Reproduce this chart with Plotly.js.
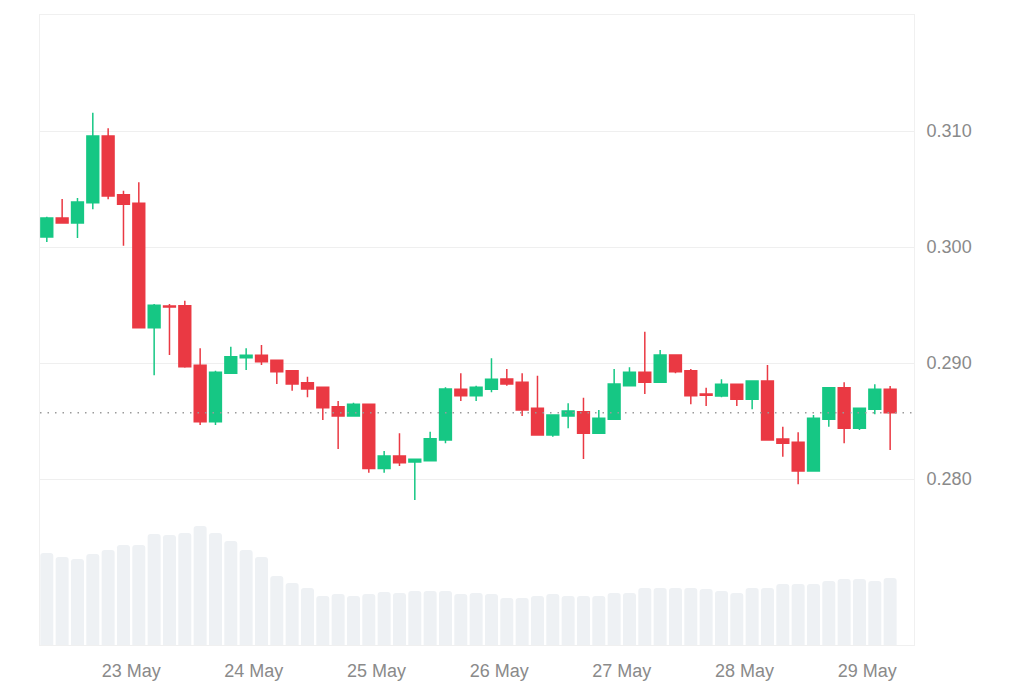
<!DOCTYPE html>
<html>
<head>
<meta charset="utf-8">
<script src="https://cdn.plot.ly/plotly-3.0.1.min.js"></script>
<style>
  html, body { margin: 0; padding: 0; background: #ffffff; }
  #chart { width: 1024px; height: 683px; }
</style>
</head>
<body>
<div id="chart"></div>
<script>
// 3-hour candles, 22 May - 29 May
const TIMES = [
  "2024-05-22 07:30","2024-05-22 10:30","2024-05-22 13:30","2024-05-22 16:30","2024-05-22 19:30","2024-05-22 22:30",
  "2024-05-23 01:30","2024-05-23 04:30","2024-05-23 07:30","2024-05-23 10:30","2024-05-23 13:30","2024-05-23 16:30","2024-05-23 19:30","2024-05-23 22:30",
  "2024-05-24 01:30","2024-05-24 04:30","2024-05-24 07:30","2024-05-24 10:30","2024-05-24 13:30","2024-05-24 16:30","2024-05-24 19:30","2024-05-24 22:30",
  "2024-05-25 01:30","2024-05-25 04:30","2024-05-25 07:30","2024-05-25 10:30","2024-05-25 13:30","2024-05-25 16:30","2024-05-25 19:30","2024-05-25 22:30",
  "2024-05-26 01:30","2024-05-26 04:30","2024-05-26 07:30","2024-05-26 10:30","2024-05-26 13:30","2024-05-26 16:30","2024-05-26 19:30","2024-05-26 22:30",
  "2024-05-27 01:30","2024-05-27 04:30","2024-05-27 07:30","2024-05-27 10:30","2024-05-27 13:30","2024-05-27 16:30","2024-05-27 19:30","2024-05-27 22:30",
  "2024-05-28 01:30","2024-05-28 04:30","2024-05-28 07:30","2024-05-28 10:30","2024-05-28 13:30","2024-05-28 16:30","2024-05-28 19:30","2024-05-28 22:30",
  "2024-05-29 01:30","2024-05-29 04:30"
];

const OPEN = [
  0.30086,0.30250,0.30207,0.30382,0.30957,0.30451,
  0.30377,0.29304,0.29491,0.29494,0.28980,0.28494,0.28911,0.29046,
  0.29067,0.29023,0.28934,0.28830,0.28790,0.28623,0.28543,0.28644,
  0.28090,0.28198,0.28147,0.28158,0.28336,0.28773,0.28718,0.28773,
  0.28862,0.28834,0.28609,0.28379,0.28543,0.28580,0.28394,0.28515,
  0.28804,0.28920,0.28834,0.29069,0.28934,0.28733,0.28716,0.28816,
  0.28687,0.28845,0.28345,0.28316,0.28069,0.28515,0.28787,0.28437,
  0.28601,0.28773
];
const HIGH = [
  0.30260,0.30414,0.30422,0.31158,0.31023,0.30485,
  0.30558,0.29509,0.29509,0.29537,0.29127,0.28934,0.29140,0.29127,
  0.29155,0.29023,0.28934,0.28882,0.28790,0.28672,0.28658,0.28644,
  0.28241,0.28394,0.28170,0.28408,0.28790,0.28911,0.28804,0.29040,
  0.28948,0.28911,0.28891,0.28552,0.28653,0.28701,0.28595,0.28948,
  0.28963,0.29270,0.29112,0.29069,0.28948,0.28787,0.28860,0.28816,
  0.28845,0.28983,0.28451,0.28403,0.28552,0.28787,0.28834,0.28609,
  0.28816,0.28802
];
const LOW = [
  0.30043,0.30200,0.30078,0.30325,0.30411,0.30011,
  0.29300,0.28894,0.29069,0.28960,0.28466,0.28466,0.28910,0.28940,
  0.28983,0.28819,0.28761,0.28705,0.28509,0.28259,0.28543,0.28054,
  0.28054,0.28112,0.27819,0.28158,0.28308,0.28672,0.28672,0.28747,
  0.28804,0.28543,0.28379,0.28365,0.28437,0.28172,0.28394,0.28515,
  0.28804,0.28733,0.28834,0.28911,0.28644,0.28629,0.28705,0.28629,
  0.28601,0.28336,0.28192,0.27954,0.28069,0.28451,0.28308,0.28422,
  0.28558,0.28250
];
const CLOSE = [
  0.30250,0.30207,0.30388,0.30957,0.30440,0.30368,
  0.29304,0.29497,0.29483,0.28968,0.28494,0.28920,0.29054,0.29067,
  0.29011,0.28925,0.28819,0.28776,0.28615,0.28543,0.28644,0.28090,
  0.28198,0.28141,0.28170,0.28347,0.28776,0.28718,0.28790,0.28860,
  0.28819,0.28595,0.28379,0.28552,0.28586,0.28394,0.28523,0.28819,
  0.28920,0.28834,0.29069,0.28925,0.28718,0.28722,0.28816,0.28687,
  0.28845,0.28336,0.28308,0.28069,0.28523,0.28787,0.28437,0.28609,
  0.28773,0.28572
];
// volume (relative units)
const VOLUME = [
  92,88,86,91,95,100,
  100,111,110,112,119,112,104,95,
  88,69,62,57,49,51,49,51,
  53,52,54,54,54,51,52,51,
  47,47,49,51,49,49,49,52,
  52,57,57,57,57,56,54,52,
  57,57,61,61,61,64,66,66,
  64,67
];
const PRICE_TICKS = [0.28, 0.29, 0.30, 0.31];
const LAST_PRICE = CLOSE[CLOSE.length - 1];

const GREEN = '#16c784';
const RED = '#ea3943';
const FONT = 'Liberation Sans, Arial, Helvetica, sans-serif';

const volumeTrace = {
  type: 'bar',
  x: TIMES,
  y: VOLUME,
  yaxis: 'y2',
  marker: { color: '#eef1f4', cornerradius: 3, line: { width: 0 } },
  hoverinfo: 'skip',
  showlegend: false
};

const candleTrace = {
  type: 'candlestick',
  x: TIMES,
  open: OPEN,
  high: HIGH,
  low: LOW,
  close: CLOSE,
  increasing: { line: { color: GREEN, width: 1.5 }, fillcolor: GREEN },
  decreasing: { line: { color: RED, width: 1.5 }, fillcolor: RED },
  whiskerwidth: 0,
  showlegend: false
};

const layout = {
  width: 1024,
  height: 683,
  margin: { l: 40, r: 110, t: 15, b: 38 },
  paper_bgcolor: '#ffffff',
  plot_bgcolor: '#ffffff',
  font: { family: FONT, size: 18, color: '#8a8a8a' },
  showlegend: false,
  bargap: 0.15,
  boxgap: 0.23,
  boxgroupgap: 0,
  xaxis: {
    type: 'date',
    range: ['2024-05-22 06:10', '2024-05-29 09:10'],
    rangeslider: { visible: false },
    tick0: '2024-05-23',
    dtick: 86400000,
    tickformat: '%d %b',
    ticks: '',
    ticklabelstandoff: 9,
    showgrid: false,
    zeroline: false,
    showline: true,
    mirror: true,
    linecolor: '#f0f0f0',
    linewidth: 1,
    tickfont: { family: FONT, size: 18, color: '#8a8a8a' }
  },
  yaxis: {
    side: 'right',
    range: [0.26569, 0.320],
    tickvals: PRICE_TICKS,
    tickformat: '.3f',
    ticks: '',
    ticklabelstandoff: 8,
    showgrid: true,
    gridcolor: '#efefef',
    gridwidth: 1,
    zeroline: false,
    showline: true,
    mirror: true,
    linecolor: '#f0f0f0',
    linewidth: 1,
    tickfont: { family: FONT, size: 18, color: '#8a8a8a' }
  },
  yaxis2: {
    overlaying: 'y',
    range: [0, 630],
    visible: false,
    showgrid: false,
    zeroline: false
  },
  shapes: [{
    type: 'line',
    xref: 'paper', x0: 0, x1: 1,
    yref: 'y', y0: LAST_PRICE, y1: LAST_PRICE,
    line: { color: '#9a9a9a', width: 1.5, dash: '1.5px,6px' }
  }]
};

Plotly.newPlot('chart', [volumeTrace, candleTrace], layout, { displayModeBar: false, staticPlot: true });
</script>
</body>
</html>
